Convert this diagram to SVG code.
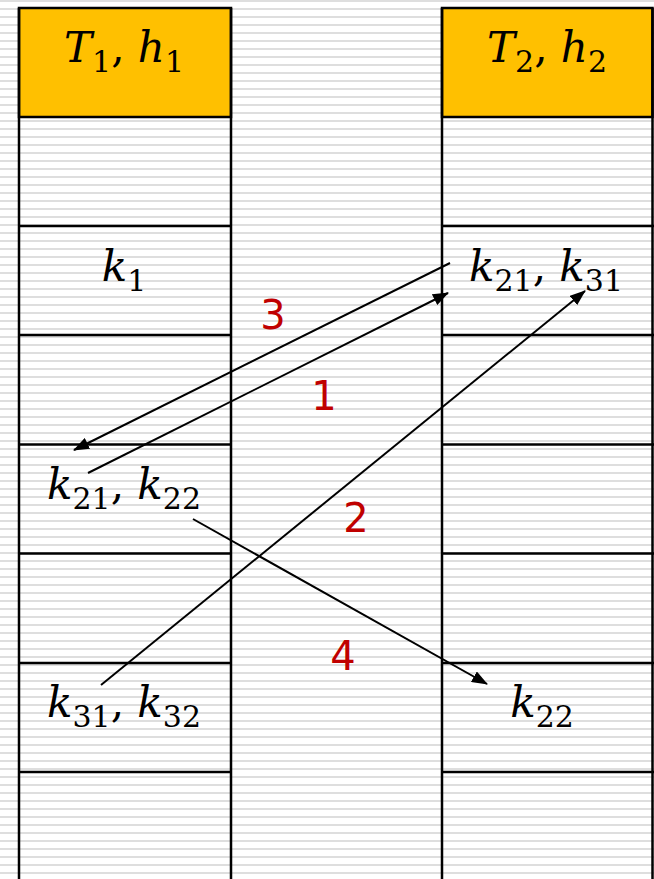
<svg xmlns="http://www.w3.org/2000/svg" width="654" height="879" viewBox="0 0 654 879">
<defs>
<pattern id="stripes" x="0" y="0" width="8" height="8" patternUnits="userSpaceOnUse">
<rect width="8" height="8" fill="#ffffff"/>
<rect y="0" width="8" height="2" fill="#dedede"/>
</pattern>
<marker id="ah" markerUnits="userSpaceOnUse" markerWidth="16" markerHeight="12" refX="15" refY="6" orient="auto">
<path d="M0,0 L16,6 L0,12 z" fill="#000"/>
</marker>
<style>
.frame{fill:none;stroke:#000;stroke-width:2.5}
.hdr{fill:#FFC000;stroke:#000;stroke-width:2.5}
.row{stroke:#000;stroke-width:2.5}
.m{font-family:"DejaVu Serif",serif;font-size:42px;fill:#000}
.v{font-style:italic}
.s{font-size:30px;font-style:normal}
.num{font-family:"DejaVu Sans",sans-serif;font-size:40px;fill:#C00000;text-anchor:middle}
.conn{stroke:#000;stroke-width:2;fill:none;marker-end:url(#ah)}
</style>
</defs>
<rect width="654" height="879" fill="url(#stripes)"/>

<g id="table1">
<rect class="hdr" x="19" y="8" width="212" height="109"/>
<line class="frame" x1="19" y1="8" x2="19" y2="879"/>
<line class="frame" x1="231" y1="8" x2="231" y2="879"/>
<line class="row" x1="19" y1="226" x2="231" y2="226"/>
<line class="row" x1="19" y1="335" x2="231" y2="335"/>
<line class="row" x1="19" y1="444.5" x2="231" y2="444.5"/>
<line class="row" x1="19" y1="553.5" x2="231" y2="553.5"/>
<line class="row" x1="19" y1="663" x2="231" y2="663"/>
<line class="row" x1="19" y1="772" x2="231" y2="772"/>
<text class="m" x="124" y="62" text-anchor="middle"><tspan class="v">T</tspan><tspan class="s" dy="10">1</tspan><tspan dy="-10">, </tspan><tspan class="v">h</tspan><tspan class="s" dy="10">1</tspan></text>
<text class="m" x="124" y="281" text-anchor="middle"><tspan class="v">k</tspan><tspan class="s" dy="10">1</tspan></text>
<text class="m" x="124" y="499" text-anchor="middle"><tspan class="v">k</tspan><tspan class="s" dy="10">21</tspan><tspan dy="-10">, </tspan><tspan class="v">k</tspan><tspan class="s" dy="10">22</tspan></text>
<text class="m" x="124" y="717" text-anchor="middle"><tspan class="v">k</tspan><tspan class="s" dy="10">31</tspan><tspan dy="-10">, </tspan><tspan class="v">k</tspan><tspan class="s" dy="10">32</tspan></text>
</g>

<g id="table2">
<rect class="hdr" x="442" y="8" width="210.5" height="109"/>
<line class="frame" x1="442" y1="8" x2="442" y2="879"/>
<line class="frame" x1="652.5" y1="8" x2="652.5" y2="879"/>
<line class="row" x1="442" y1="226" x2="654" y2="226"/>
<line class="row" x1="442" y1="335" x2="654" y2="335"/>
<line class="row" x1="442" y1="444.5" x2="654" y2="444.5"/>
<line class="row" x1="442" y1="553.5" x2="654" y2="553.5"/>
<line class="row" x1="442" y1="663" x2="654" y2="663"/>
<line class="row" x1="442" y1="772" x2="654" y2="772"/>
<text class="m" x="547" y="62" text-anchor="middle"><tspan class="v">T</tspan><tspan class="s" dy="10">2</tspan><tspan dy="-10">, </tspan><tspan class="v">h</tspan><tspan class="s" dy="10">2</tspan></text>
<text class="m" x="546" y="281" text-anchor="middle"><tspan class="v">k</tspan><tspan class="s" dy="10">21</tspan><tspan dy="-10">, </tspan><tspan class="v">k</tspan><tspan class="s" dy="10">31</tspan></text>
<text class="m" x="542" y="717" text-anchor="middle"><tspan class="v">k</tspan><tspan class="s" dy="10">22</tspan></text>
</g>

<g id="connectors">
<line class="conn" x1="450" y1="263" x2="74" y2="450"/>
<line class="conn" x1="88" y1="473" x2="448" y2="293"/>
<line class="conn" x1="101" y1="685" x2="585" y2="291"/>
<line class="conn" x1="193" y1="519" x2="487" y2="684"/>
<text class="num" x="273" y="329">3</text>
<text class="num" x="324" y="410">1</text>
<text class="num" x="356" y="532">2</text>
<text class="num" x="343" y="670">4</text>
</g>
</svg>
